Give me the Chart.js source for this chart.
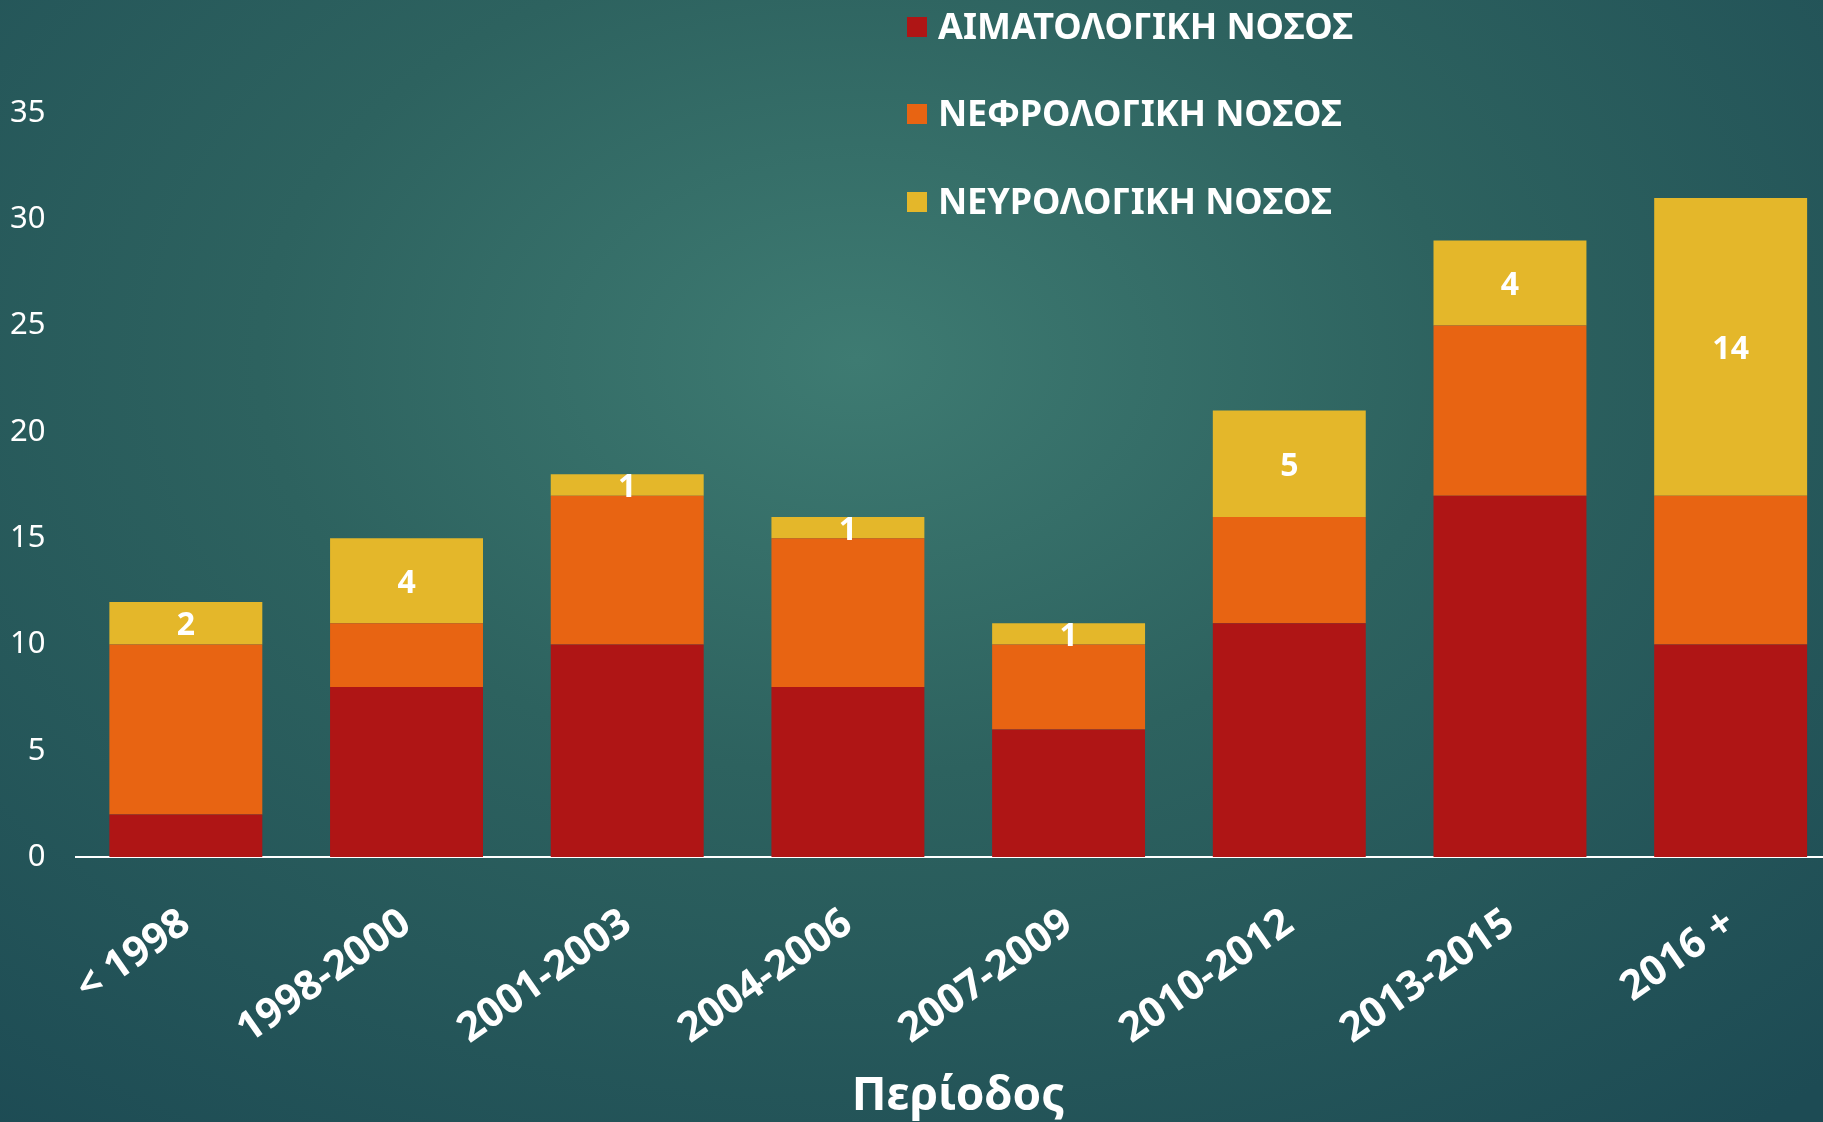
<!DOCTYPE html>
<html>
<head>
<meta charset="utf-8">
<script src="https://cdn.jsdelivr.net/npm/chart.js@4/dist/chart.umd.min.js"></script>
<style>
  html, body {
    margin: 0;
    padding: 0;
    width: 1823px;
    height: 1122px;
    overflow: hidden;
    background: radial-gradient(ellipse 78% 88% at 47% 32%, #3e7b72 0%, #2d625f 42%, #1d4b54 100%);
  }
  #wrap { position: relative; width: 1841px; height: 1122px; }
</style>
</head>
<body>
<div id="wrap"><canvas id="chart"></canvas></div>
<script>
// data
const periods = ["< 1998", "1998-2000", "2001-2003", "2004-2006", "2007-2009", "2010-2012", "2013-2015", "2016 +"];
const haemato = [2, 8, 10, 8, 6, 11, 17, 10];
const nephro  = [8, 3, 7, 7, 4, 5, 8, 7];
const neuro   = [2, 4, 1, 1, 1, 5, 4, 14];
const seriesNames = ["ΑΙΜΑΤΟΛΟΓΙΚΗ ΝΟΣΟΣ", "ΝΕΦΡΟΛΟΓΙΚΗ ΝΟΣΟΣ", "ΝΕΥΡΟΛΟΓΙΚΗ ΝΟΣΟΣ"];
const yTicks = [0, 5, 10, 15, 20, 25, 30, 35];
const axisTitle = "Περίοδος";

const colors = ["#af1515", "#e86412", "#e4b72a"];
const FONT = "'Noto Sans', 'DejaVu Sans', sans-serif";

/* ============================
   PLUGINS
============================ */
// white labels in the middle of the neurological segments
const segmentLabels = {
  id: "segmentLabels",
  afterDatasetsDraw(chart) {
    const ctx = chart.ctx;
    const meta = chart.getDatasetMeta(2);
    ctx.save();
    ctx.fillStyle = "#ffffff";
    ctx.font = "bold 32px " + FONT;
    ctx.textAlign = "center";
    ctx.textBaseline = "middle";
    meta.data.forEach((bar, i) => {
      const p = bar.getCenterPoint();
      ctx.fillText(String(chart.data.datasets[2].data[i]), p.x, p.y + 3);
    });
    ctx.restore();
  }
};

// legend in the upper middle, over the plot
const sideLegend = {
  id: "sideLegend",
  afterDraw(chart) {
    const ctx = chart.ctx;
    const rows = [27, 114, 202];
    ctx.save();
    ctx.font = "bold 36px " + FONT;
    ctx.textBaseline = "middle";
    chart.data.datasets.forEach((ds, i) => {
      ctx.fillStyle = ds.backgroundColor;
      ctx.fillRect(907, rows[i] - 10, 20, 20);
      ctx.fillStyle = "#ffffff";
      ctx.fillText(ds.label, 938, rows[i] + 2);
    });
    ctx.restore();
  }
};

/* ============================
   CHART
============================ */
new Chart(document.getElementById("chart"), {
  type: "bar",
  data: {
    labels: periods,
    datasets: [
      { label: seriesNames[0], data: haemato, backgroundColor: colors[0] },
      { label: seriesNames[1], data: nephro, backgroundColor: colors[1] },
      { label: seriesNames[2], data: neuro, backgroundColor: colors[2] }
    ]
  },
  options: {
    responsive: true,
    maintainAspectRatio: false,
    animation: false,
    layout: { padding: { top: 113, left: 0, right: 0, bottom: 0 } },
    datasets: { bar: { categoryPercentage: 1, barPercentage: 0.693 } },
    plugins: {
      legend: { display: false },
      tooltip: { enabled: false }
    },
    scales: {
      x: {
        stacked: true,
        grid: { display: false },
        border: { display: true, color: "#ffffff", width: 2 },
        ticks: {
          color: "#ffffff",
          font: { family: FONT, size: 41, weight: "bold" },
          minRotation: 35,
          maxRotation: 35,
          padding: 34,
          autoSkip: false
        },
        title: {
          display: true,
          text: axisTitle,
          color: "#ffffff",
          font: { family: FONT, size: 46, weight: "bold", lineHeight: 1.2 },
          padding: { top: 0, bottom: -2 }
        },
        afterFit: s => { s.height = 265; }
      },
      y: {
        stacked: true,
        min: yTicks[0],
        max: yTicks[yTicks.length - 1],
        grid: { display: false, drawTicks: false },
        border: { display: false },
        afterBuildTicks: s => { s.ticks = yTicks.map(v => ({ value: v })); },
        ticks: {
          color: "#ffffff",
          font: { family: FONT, size: 31 },
          padding: 30
        },
        afterFit: s => { s.width = 75.5; }
      }
    }
  },
  plugins: [segmentLabels, sideLegend]
});
</script>
</body>
</html>
